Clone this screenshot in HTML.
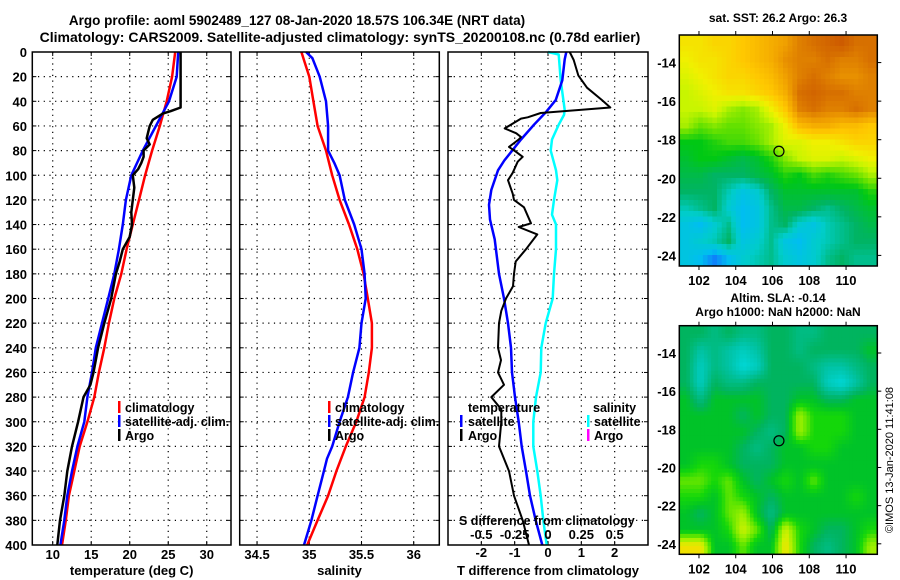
<!DOCTYPE html>
<html><head><meta charset="utf-8">
<style>
html,body{margin:0;padding:0;background:#fff;}
svg{display:block;font-family:"Liberation Sans",Arial,sans-serif;font-weight:bold;}
</style></head>
<body>
<svg id="chart" width="900" height="580" viewBox="0 0 900 580" xmlns="http://www.w3.org/2000/svg">
<text x="297" y="25" font-size="13.5" text-anchor="middle">Argo profile: aoml 5902489_127 08-Jan-2020 18.57S 106.34E (NRT data)</text>
<text x="340" y="42" font-size="14" text-anchor="middle">Climatology: CARS2009. Satellite-adjusted climatology: synTS_20200108.nc (0.78d earlier)</text>
<text x="778" y="22" font-size="12" text-anchor="middle">sat. SST: 26.2 Argo: 26.3</text>
<text x="778" y="302" font-size="12" text-anchor="middle">Altim. SLA: -0.14</text>
<text x="778" y="316" font-size="12" text-anchor="middle">Argo h1000: NaN h2000: NaN</text>
<text transform="translate(893,460) rotate(-90)" font-size="11" font-weight="normal" text-anchor="middle">©IMOS 13-Jan-2020 11:41:08</text>
<g id="layer"></g>
</svg>
<script>
// ---------- data ----------
const depthTicks = [0,20,40,60,80,100,120,140,160,180,200,220,240,260,280,300,320,340,360,380,400];
const stdDepths = [0,20,40,60,80,100,120,140,160,180,200,220,240,260,280,300,320,340,360,380,400];
const tempClim = [25.9,25.5,24.8,23.9,22.9,22.0,21.2,20.4,19.6,18.9,18.0,17.3,16.7,16.0,15.4,14.5,13.5,12.8,12.1,11.7,11.2];
const tempSat = [26.3,26.1,25.1,23.4,21.7,20.2,19.5,19.1,18.6,18.0,17.2,16.4,15.6,15.1,14.5,14.1,13.2,12.5,11.9,11.5,11.0];
const argoDepths = [0,45,48,50,55,60,65,70,75,80,85,90,95,100,110,120,130,140,150,160,170,180,200,220,240,260,270,280,300,320,340,360,380,400];
const tempArgo = [26.6,26.6,25.3,24.3,23.0,22.6,22.4,22.2,22.6,21.8,21.8,21.5,21.1,20.4,20.6,20.4,20.2,20.3,20.0,19.1,18.7,18.2,17.6,16.7,15.9,15.3,14.9,14.0,13.3,12.5,11.9,11.5,10.95,10.6];
const salClim = [34.925,35.0,35.04,35.08,35.16,35.22,35.29,35.38,35.46,35.52,35.56,35.6,35.6,35.57,35.53,35.45,35.35,35.26,35.18,35.08,34.98];
const salSatDepths = [0,5,20,40,60,80,90,100,120,140,160,180,200,220,240,260,280,300,320,330,340,360,380,400];
const salSat = [34.97,35.03,35.1,35.16,35.18,35.18,35.24,35.29,35.34,35.43,35.5,35.53,35.54,35.5,35.48,35.42,35.37,35.29,35.22,35.17,35.14,35.08,35.02,34.95];
const dtArgoDepths = [0,6.5,19,29,39,45,49.5,53,54,62,66,69,71,77,81,85,89,98,104,115,120,126,139,142,148,160,170,180,190,200,210,220,240,250,260,270,280,290,300,320,340,360,380,400];
const dtArgo = [0.65,0.77,0.91,1.17,1.62,1.87,-0.22,-0.61,-0.81,-1.3,-0.95,-0.81,-0.88,-1.17,-0.96,-0.76,-0.91,-1.06,-1.2,-1.06,-1.02,-0.72,-0.51,-0.88,-0.32,-0.66,-0.97,-1.02,-1.05,-1.26,-1.4,-1.47,-1.5,-1.41,-1.5,-1.32,-1.7,-1.4,-1.4,-1.47,-1.17,-1.02,-0.76,-0.57];
const dtSatDepths = [0,6,23,39,49,59,71,88,96,112,124,136,152,180,200,220,240,260,280,300,320,340,360,380,400];
const dtSat = [0.55,0.5,0.43,0.23,-0.07,-0.42,-0.81,-1.31,-1.5,-1.7,-1.77,-1.74,-1.6,-1.47,-1.32,-1.2,-1.11,-1.08,-0.99,-0.88,-0.79,-0.66,-0.54,-0.37,-0.17];
const dsSatDepths = [0,2,23,47,51,59,71,80,96,104,120,132,140,160,180,200,220,240,260,280,300,320,340,360,380,400];
const dsSat = [0,0.08,0.095,0.125,0.12,0.08,0.03,0.02,0.06,0.07,0.045,0.03,0.06,0.06,0.045,0.035,-0.017,-0.05,-0.055,-0.09,-0.11,-0.11,-0.08,-0.055,-0.035,-0.01];
const tTicks = [10,15,20,25,30];
const sTicks = [34.5,35,35.5,36];
const dTTicks = [-2,-1,0,1,2];
const dSTicks = [-0.5,-0.25,0,0.25,0.5];
const dSTickLabels = ["-0.5","-0.25","0","0.25","0.5"];
const lonTicks = [102,104,106,108,110];
const latTicks = [-14,-16,-18,-20,-22,-24];
const argoLon = 106.35, argoLat = -18.6;
const sstGrid = [
[26.2,26.2,26.3,26.3,26.4,26.5,26.6,26.7,26.9,27.0,27.1,27.2,27.0,27.0],
[26.1,26.2,26.2,26.3,26.4,26.5,26.6,26.8,26.9,26.9,27.0,26.9,26.9,27.0],
[26.0,26.1,26.2,26.3,26.3,26.4,26.5,26.7,26.9,27.0,26.9,26.8,26.8,26.9],
[25.9,26.0,26.1,26.2,26.2,26.3,26.4,26.6,27.0,27.1,27.0,27.0,26.9,26.9],
[25.9,25.9,26.0,25.8,25.7,25.8,26.1,26.4,26.9,27.0,26.9,26.9,27.0,26.9],
[25.8,25.6,25.7,25.6,25.6,25.7,25.8,26.1,26.5,26.6,26.6,26.5,26.5,26.4],
[25.3,25.3,25.4,25.5,25.5,25.6,25.8,26.0,26.0,26.1,26.1,26.2,26.3,26.3],
[25.2,25.3,25.3,25.2,25.1,25.2,25.4,25.7,25.9,26.0,26.0,25.9,26.0,26.1],
[25.1,25.1,25.0,25.0,25.0,25.1,25.2,25.4,25.3,25.5,25.4,25.5,25.6,25.8],
[25.0,25.0,25.0,24.8,24.6,24.7,25.0,25.2,25.2,25.2,25.2,25.2,25.2,25.4],
[24.8,24.9,25.0,24.7,24.5,24.6,24.9,25.1,25.1,25.0,24.9,25.0,25.1,25.2],
[24.6,24.5,24.7,24.9,24.5,24.6,24.9,25.0,24.7,24.6,24.8,24.9,25.0,25.1],
[24.6,24.7,24.8,25.0,24.6,24.7,24.9,24.6,24.5,24.7,24.8,24.9,25.0,25.0],
[24.6,24.5,24.3,24.5,24.7,24.8,24.9,24.7,24.6,24.7,24.9,25.0,24.9,24.9]];
const slaGrid = [
[4,4,3,4,3,3,4,4,3,3,4,4,4,4],
[4,2,3,2,1,2,4,4,3,4,4,4,4,5],
[4,1,3,2,0,1,4,4,4,3,2,2,3,4],
[4,1,4,3,3,4,4,4,4,4,1,0,2,4],
[5,3,5,5,5,5,4,4,5,5,4,4,5,5],
[5,5,5,5,4,5,4,4,8,6,6,6,5,5],
[5,5,5,5,5,4,3,4,8,6,6,6,5,5],
[5,5,5,5,4,3,4,5,5,6,6,5,5,5],
[5,6,6,5,4,4,4,5,5,5,5,5,5,5],
[7,7,6,7,5,4,5,6,5,7,5,5,5,5],
[6,6,5,7,6,5,4,5,5,5,5,5,6,5],
[5,4,5,7,8,5,3,5,5,5,5,5,5,5],
[5,5,5,6,9,7,4,9,6,5,4,4,5,6],
[10,10,5,5,7,5,5,10,6,4,3,4,5,8]];

// ---------- helpers ----------
const NS = "http://www.w3.org/2000/svg";
const layer = document.getElementById('layer');
function el(tag, attrs, parent) {
  const e = document.createElementNS(NS, tag);
  for (const k in attrs) e.setAttribute(k, attrs[k]);
  (parent || layer).appendChild(e);
  return e;
}
function lin(d0, d1, r0, r1) { return v => r0 + (v - d0) / (d1 - d0) * (r1 - r0); }
const Y0 = 52, Y1 = 545;
const yD = lin(0, 400, Y0, Y1);

const panels = [
  {name:'temperature', x0:32.3, x1:231, dom:[7.35,33.15], ticks:tTicks, labels:tTicks.map(String), title:'temperature (deg C)', yLabels:true},
  {name:'salinity', x0:239.7, x1:439.3, dom:[34.334,36.245], ticks:sTicks, labels:sTicks.map(String), title:'salinity', yLabels:false},
  {name:'difference', x0:448, x1:648, dom:[-3,3], ticks:dTTicks, labels:dTTicks.map(String), title:'T difference from climatology', yLabels:false}
];
panels.forEach(p => {
  p.x = lin(p.dom[0], p.dom[1], p.x0, p.x1);
  const g = el('g', {});
  
  
  depthTicks.forEach(d => {
    if (d === 0 || d === 400) return;
    const l = el('line', {x1:p.x0, x2:p.x1, y1:yD(d), y2:yD(d), stroke:'#000', 'stroke-width':1.2, 'stroke-dasharray':'1.2,4.5'}, g);
    
    
    el('line', {x1:p.x0, x2:p.x0+4, y1:yD(d), y2:yD(d), stroke:'#000'}, g);
    el('line', {x1:p.x1-4, x2:p.x1, y1:yD(d), y2:yD(d), stroke:'#000'}, g);
  });
  p.ticks.forEach((t, i) => {
    const x = p.x(t);
    const l = el('line', {x1:x, x2:x, y1:Y0, y2:Y1, stroke:'#000', 'stroke-width':1.2, 'stroke-dasharray':'1.2,4.5'}, g);
    
    
    el('line', {x1:x, x2:x, y1:Y0, y2:Y0+4, stroke:'#000'}, g);
    el('line', {x1:x, x2:x, y1:Y1-4, y2:Y1, stroke:'#000'}, g);
    const tx = el('text', {x:x, y: p.name==='difference' ? 557 : 559, 'font-size':13, 'text-anchor':'middle'}, g);
    tx.textContent = p.labels[i];
    
    
  });
  const ttl = el('text', {x:(p.x0+p.x1)/2, y:575, 'font-size':13, 'text-anchor':'middle'}, g);
  ttl.textContent = p.title;
  
  
  if (p.yLabels) {
    depthTicks.forEach(d => {
      const tx = el('text', {x:27, y:yD(d)+5, 'font-size':13, 'text-anchor':'end'}, g);
      tx.textContent = d;
      
      
    });
  }
  p.g = g;
});
function series(p, xs, depths, color, w, name, xfn) {
  const fx = xfn || p.x;
  const pts = xs.map((v, i) => fx(v).toFixed(1) + ',' + yD(depths[i]).toFixed(1)).join(' ');
  const pl = el('polyline', {points:pts, fill:'none', stroke:color, 'stroke-width':w, 'stroke-linejoin':'round'}, p.g);
  
  
}
const P1 = panels[0], P2 = panels[1], P3 = panels[2];
series(P1, tempClim, stdDepths, '#ff0000', 2.5, 'temp-climatology-line');
series(P1, tempSat, stdDepths, '#0000ff', 2.5, 'temp-satellite-line');
series(P1, tempArgo, argoDepths, '#000000', 2.5, 'temp-argo-line');
series(P2, salClim, stdDepths, '#ff0000', 2.5, 'sal-climatology-line');
series(P2, salSat, salSatDepths, '#0000ff', 2.5, 'sal-satellite-line');
const xS = lin(-0.75, 0.75, P3.x0, P3.x1);
series(P3, dsSat, dsSatDepths, '#00ffff', 2.5, 'sal-diff-satellite-line', xS);
series(P3, dtSat, dtSatDepths, '#0000ff', 2.5, 'temp-diff-satellite-line');
series(P3, dtArgo, dtArgoDepths, '#000000', 2, 'temp-diff-argo-line');
dSTicks.forEach((t, i) => {
  const tx = el('text', {x:xS(t), y:539, 'font-size':13, 'text-anchor':'middle'}, P3.g);
  tx.textContent = dSTickLabels[i];
  
  
});
const sdt = el('text', {x:459, y:525, 'font-size':12.5}, P3.g);
sdt.textContent = 'S difference from climatology';


panels.forEach(p => {
  const r = el('rect', {x:p.x0, y:Y0, width:p.x1-p.x0, height:Y1-Y0, fill:'none', stroke:'#000', 'stroke-width':1.5}, p.g);
  
  
});
function legend(g, mx, tx, y, color, label) {
  const lg = el('g', {}, g);
  
  
  if (color) el('rect', {x:mx-1, y:y-10, width:2.5, height:12, fill:color}, lg);
  const t = el('text', {x:tx, y:y+1, 'font-size':12.5}, lg);
  t.textContent = label;
}
legend(P1.g, 119, 125, 411, '#ff0000', 'climatology');
legend(P1.g, 119, 125, 425, '#0000ff', 'satellite-adj. clim.');
legend(P1.g, 119, 125, 439, '#000000', 'Argo');
legend(P2.g, 329, 335, 411, '#ff0000', 'climatology');
legend(P2.g, 329, 335, 425, '#0000ff', 'satellite-adj. clim.');
legend(P2.g, 329, 335, 439, '#000000', 'Argo');
legend(P3.g, 0, 468, 411, null, 'temperature');
legend(P3.g, 461, 468, 425, '#0000ff', 'satellite');
legend(P3.g, 461, 468, 439, '#000000', 'Argo');
legend(P3.g, 0, 593, 411, null, 'salinity');
legend(P3.g, 588, 594, 425, '#00ffff', 'satellite');
legend(P3.g, 588, 594, 439, '#ff00ff', 'Argo');

// ---------- maps ----------
function mkScale(stops) {
  const css = c => 'rgb(' + c.join(',') + ')';
  return v => {
    if (v <= stops[0][0]) return css(stops[0][1]);
    for (let i = 1; i < stops.length; i++) {
      if (v <= stops[i][0]) {
        const a = stops[i-1], b = stops[i], f = (v - a[0]) / (b[0] - a[0]);
        return css(a[1].map((q, k) => Math.round(q + (b[1][k] - q) * f)));
      }
    }
    return css(stops[stops.length-1][1]);
  };
}
const sstColor = mkScale([[24.2,[20,100,255]],[24.5,[0,190,240]],[24.75,[0,205,200]],[25.0,[0,180,100]],[25.3,[0,200,20]],[25.6,[100,225,0]],[25.9,[200,245,0]],[26.1,[240,240,0]],[26.4,[255,200,0]],[26.7,[240,160,0]],[27.0,[215,112,0]],[27.3,[200,80,0]]]);
const slaColor = mkScale([[0,[0,215,215]],[2,[0,195,165]],[4,[0,180,95]],[5,[0,195,40]],[6,[20,215,10]],[7,[100,230,0]],[8,[160,240,0]],[9,[210,240,0]],[10,[240,225,0]]]);
// sample grid with bilinear smoothing for display (rendering only)
function sample(grid, fr, fc) {
  const rows = grid.length, cols = grid[0].length;
  const r = Math.min(Math.max(fr - 0.5, 0), rows - 1), c = Math.min(Math.max(fc - 0.5, 0), cols - 1);
  const r0 = Math.floor(r), c0 = Math.floor(c), r1 = Math.min(r0 + 1, rows - 1), c1 = Math.min(c0 + 1, cols - 1);
  const fy = r - r0, fx = c - c0;
  return grid[r0][c0]*(1-fx)*(1-fy) + grid[r0][c1]*fx*(1-fy) + grid[r1][c0]*(1-fx)*fy + grid[r1][c1]*fx*fy;
}
function drawMap(name, grid, color, top, bottom, sub) {
  const L = 679.3, R = 877.3;
  const lonX = lin(100.93, 111.7, L, R);
  const latY = lin(-12.57, -24.55, top, bottom);
  const g = el('g', {});
  
  
  const rows = grid.length * sub, cols = grid[0].length * sub;
  const cw = (R - L) / cols, ch = (bottom - top) / rows;
  for (let r = 0; r < rows; r++) for (let c = 0; c < cols; c++) {
    const v = sample(grid, (r + 0.5) / sub, (c + 0.5) / sub);
    const cell = el('rect', {x:(L + c*cw).toFixed(2), y:(top + r*ch).toFixed(2), width:(cw+0.5).toFixed(2), height:(ch+0.5).toFixed(2), fill:color(v)}, g);
    
    
  }
  el('rect', {x:L, y:top, width:R-L, height:bottom-top, fill:'none', stroke:'#000', 'stroke-width':1.5}, g);
  lonTicks.forEach(t => {
    const x = lonX(t);
    el('line', {x1:x, x2:x, y1:top, y2:top-4, stroke:'#000'}, g);
    el('line', {x1:x, x2:x, y1:bottom, y2:bottom+4, stroke:'#000'}, g);
    const tx = el('text', {x:x, y:bottom+19, 'font-size':13, 'text-anchor':'middle'}, g);
    tx.textContent = t;
    
    
  });
  latTicks.forEach(t => {
    const y = latY(t);
    el('line', {x1:R, x2:R+4, y1:y, y2:y, stroke:'#000'}, g);
    const tx = el('text', {x:676, y:y+5, 'font-size':13, 'text-anchor':'end'}, g);
    tx.textContent = t;
    
    
  });
  const m = el('circle', {cx:lonX(argoLon), cy:latY(argoLat), r:5, fill:'none', stroke:'#000', 'stroke-width':1.2}, g);
  
  
}
drawMap('sst-map', sstGrid, sstColor, 35, 266, 3);
drawMap('sla-map', slaGrid, slaColor, 325.7, 554.3, 4);
</script>
</body></html>
